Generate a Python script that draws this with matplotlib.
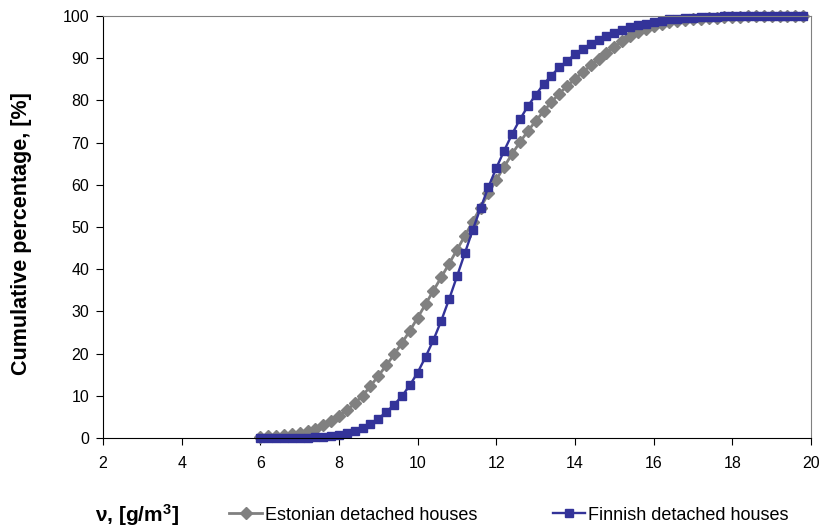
import matplotlib
matplotlib.use('Agg')
import matplotlib.pyplot as plt

plt.rcParams['font.family'] = ['Liberation Sans', 'DejaVu Sans']
plt.rcParams['mathtext.fontset'] = 'custom'
plt.rcParams['mathtext.bf'] = 'Liberation Sans:bold'
plt.rcParams['mathtext.default'] = 'bf'

# concentration classes, g/m3
x = [6.0, 6.2, 6.4, 6.6, 6.8, 7.0, 7.2, 7.4, 7.6, 7.8,
     8.0, 8.2, 8.4, 8.6, 8.8, 9.0, 9.2, 9.4, 9.6, 9.8,
     10.0, 10.2, 10.4, 10.6, 10.8, 11.0, 11.2, 11.4, 11.6, 11.8,
     12.0, 12.2, 12.4, 12.6, 12.8, 13.0, 13.2, 13.4, 13.6, 13.8,
     14.0, 14.2, 14.4, 14.6, 14.8, 15.0, 15.2, 15.4, 15.6, 15.8,
     16.0, 16.2, 16.4, 16.6, 16.8, 17.0, 17.2, 17.4, 17.6, 17.8,
     18.0, 18.2, 18.4, 18.6, 18.8, 19.0, 19.2, 19.4, 19.6, 19.8]

estonian = [0.3, 0.4, 0.5, 0.7, 0.9, 1.2, 1.6, 2.2, 3.0, 4.0,
            5.2, 6.6, 8.2, 10.0, 12.3, 14.7, 17.2, 19.8, 22.5, 25.4,
            28.5, 31.7, 34.9, 38.1, 41.3, 44.6, 47.9, 51.3, 54.6, 58.0,
            61.2, 64.3, 67.3, 70.1, 72.7, 75.1, 77.4, 79.6, 81.6, 83.4,
            85.1, 86.7, 88.3, 89.8, 91.3, 92.6, 94.0, 95.2, 96.2, 97.0,
            97.6, 98.1, 98.5, 98.8, 99.0, 99.2, 99.4, 99.5, 99.6, 99.7,
            99.8, 99.8, 99.9, 99.9, 99.9, 100.0, 100.0, 100.0, 100.0, 100.0]

finnish = [0.0, 0.0, 0.0, 0.0, 0.1, 0.1, 0.1, 0.2, 0.3, 0.5,
           0.7, 1.1, 1.6, 2.4, 3.4, 4.6, 6.1, 7.9, 9.9, 12.5,
           15.5, 19.2, 23.2, 27.8, 32.9, 38.3, 43.8, 49.3, 54.5, 59.5,
           64.0, 68.1, 72.0, 75.5, 78.6, 81.3, 83.8, 85.9, 87.8, 89.4,
           90.9, 92.2, 93.3, 94.3, 95.2, 96.0, 96.7, 97.3, 97.8, 98.2,
           98.6, 98.9, 99.2, 99.4, 99.5, 99.6, 99.7, 99.8, 99.8, 99.9,
           99.9, 100.0, 100.0, 100.0, 100.0, 100.0, 100.0, 100.0, 100.0, 100.0]

fig = plt.figure(figsize=(8.22, 5.30), dpi=100)
ax = fig.add_axes([0.1253, 0.1736, 0.8613, 0.7962])

l1, = ax.plot(x, estonian, color='#808080', lw=2.0, marker='D', ms=6.5,
              mec='#808080', label='Estonian detached houses', clip_on=False)
l2, = ax.plot(x, finnish, color='#333399', lw=1.7, marker='s', ms=6.3,
              mec='#333399', label='Finnish detached houses', clip_on=False)

ax.set_xlim(2, 20)
ax.set_ylim(0, 100)
ax.set_xticks(range(2, 21, 2))
ax.set_yticks(range(0, 101, 10))
ax.tick_params(axis='x', direction='out', length=5, pad=8, labelsize=11.5)
ax.tick_params(axis='y', direction='out', length=5, pad=5, labelsize=11.5)
for s in ['top', 'right']:
    ax.spines[s].set_color('#808080')
for s in ['left', 'bottom']:
    ax.spines[s].set_color('black')

fig.text(0.026, 0.56, 'Cumulative percentage, [%]', rotation=90,
         ha='center', va='center', fontsize=15.5, fontweight='bold')
fig.text(0.167, 0.028, r'ν, [g/m$^3$]', ha='center', va='center',
         fontsize=15, fontweight='bold')

fig.legend(handles=[l1, l2], loc='center left', bbox_to_anchor=(0.279, 0.028),
           ncol=2, frameon=False, fontsize=13, handlelength=1.8,
           handletextpad=0.15, columnspacing=4.2, numpoints=1,
           borderpad=0, borderaxespad=0)

fig.savefig('out.png', dpi=100)
